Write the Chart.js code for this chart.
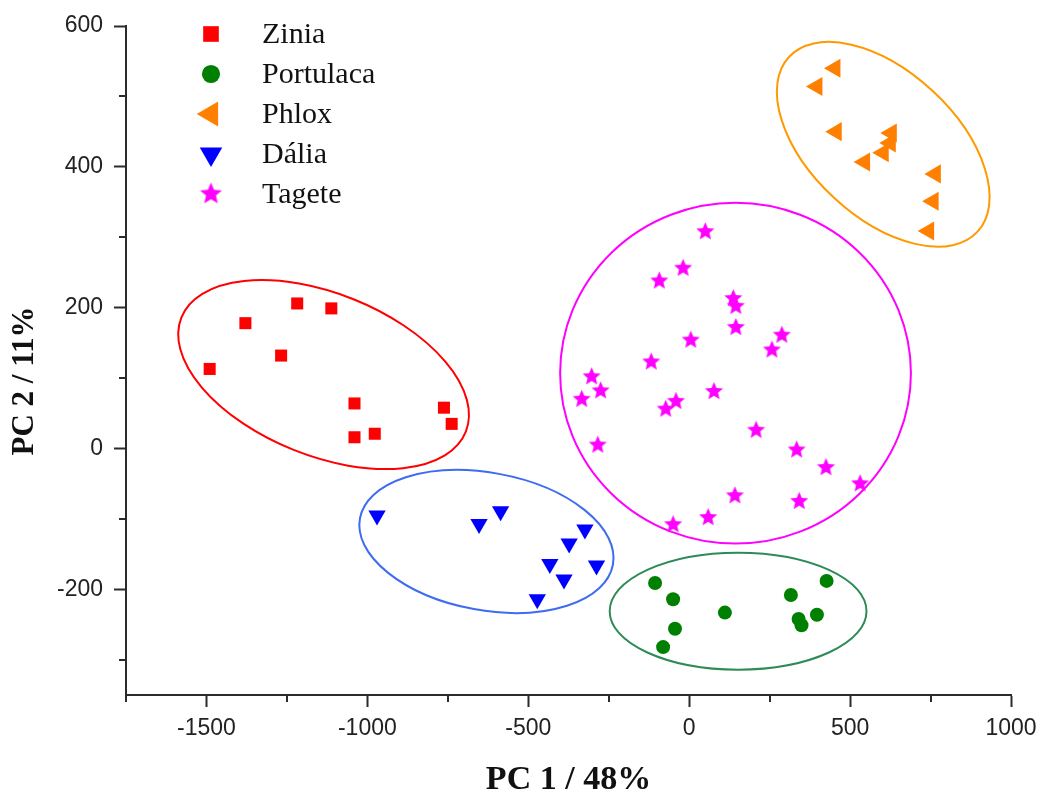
<!DOCTYPE html>
<html>
<head>
<meta charset="utf-8">
<title>PCA – PC1 x PC2</title>
<script src="https://cdn.jsdelivr.net/npm/chart.js@4/dist/chart.umd.min.js"></script>
<style>
  html, body { margin: 0; padding: 0; background: #fff; }
</style>
</head>
<body>
<canvas id="pca" width="1040" height="794"></canvas>
<script>
// ── Scores (PC1, PC2) por espécie ────────────────────────────
const ZINIA = [
  [-1490, 113], [-1379, 178], [-1218, 206], [-1112, 199], [-1268, 132],
  [-1040, 64], [-1040, 16], [-977, 21], [-762, 58], [-738, 35],
];
const PORTULACA = [
  [-106, -191], [-50, -214], [-44, -256], [-81, -282], [111, -233],
  [316, -208], [427, -188], [340, -242], [349, -251], [397, -236],
];
const PHLOX = [
  [453, 540], [397, 514], [457, 450], [628, 448], [625, 434],
  [603, 420], [545, 407], [765, 390], [758, 351], [744, 309],
];
const DALIA = [
  [-970, -95], [-653, -107], [-586, -89], [-324, -115], [-373, -135],
  [-433, -164], [-288, -166], [-389, -186], [-472, -214],
];
const TAGETE = [
  [50, 308], [-19, 256], [-93, 238], [137, 213], [145, 202],
  [145, 172], [288, 161], [257, 140], [5, 154], [-118, 123],
  [-303, 102], [-275, 82], [-334, 70], [-41, 67], [-73, 56],
  [77, 81], [-284, 5], [208, 26], [334, -2], [425, -27],
  [531, -50], [342, -75], [142, -67], [59, -98], [-50, -108],
];

// Elipses dos grupos: centro + dois semi-eixos conjugados (unidades dos dados)
const ZINIA_RING     = { c: [-1136, 105], a: [442, -81],  b: [-93, -107] };
const PORTULACA_RING = { c: [152, -231],  a: [399, 0],    b: [0, 83] };
const PHLOX_RING     = { c: [603, 432],   a: [293, -124], b: [-153, -76] };
const DALIA_RING     = { c: [-630, -132], a: [393, -33],  b: [-39, -96] };
const TAGETE_RING    = { c: [144, 107],   a: [545, 0],    b: [0, 242] };

const X_TICKS = [-1500, -1000, -500, 0, 500, 1000];
const X_MINOR = [-1750, -1250, -750, -250, 250, 750];
const Y_TICKS = [-200, 0, 200, 400, 600];
const Y_MINOR = [-300, -100, 100, 300, 500];

const AXIS = '#2b2b2b';
const SANS = '"Liberation Sans", Arial, sans-serif';
const SERIF = '"Liberation Serif", "Times New Roman", serif';

function makeStar(outer, inner, color) {
  const c = document.createElement('canvas');
  const s = Math.ceil(outer * 2) + 2;
  c.width = c.height = s;
  const g = c.getContext('2d');
  g.fillStyle = color;
  g.beginPath();
  for (let i = 0; i < 10; i++) {
    const r = i % 2 ? inner : outer;
    const ang = -Math.PI / 2 + i * Math.PI / 5;
    g.lineTo(s / 2 + r * Math.cos(ang), s / 2 + r * Math.sin(ang));
  }
  g.closePath();
  g.fill();
  return c;
}

const starSmall = makeStar(9.5, 4.3, '#ff00ff');
const starBig   = makeStar(11.5, 5.2, '#ff00ff');

const toXY = pts => pts.map(([x, y]) => ({ x, y }));

function serie(label, pts, color, style, radius, rotation, ring, ringColor) {
  return {
    label, data: toXY(pts),
    backgroundColor: color, borderColor: color, borderWidth: 0,
    pointStyle: style, pointRadius: radius, pointRotation: rotation,
    ring, ringColor,
  };
}

// ── Elipses (por baixo dos pontos) ───────────────────────────
const ringsPlugin = {
  id: 'rings',
  beforeDatasetsDraw(chart) {
    const { ctx, scales: { x, y } } = chart;
    chart.data.datasets.forEach(ds => {
      const r = ds.ring;
      const cx = x.getPixelForValue(r.c[0]), cy = y.getPixelForValue(r.c[1]);
      const ax = x.getPixelForValue(r.c[0] + r.a[0]) - cx;
      const ay = y.getPixelForValue(r.c[1] + r.a[1]) - cy;
      const bx = x.getPixelForValue(r.c[0] + r.b[0]) - cx;
      const by = y.getPixelForValue(r.c[1] + r.b[1]) - cy;
      ctx.save();
      ctx.beginPath();
      ctx.transform(ax, ay, bx, by, cx, cy);
      ctx.arc(0, 0, 1, 0, Math.PI * 2);
      ctx.restore();
      ctx.save();
      ctx.strokeStyle = ds.ringColor;
      ctx.lineWidth = 2;
      ctx.stroke();
      ctx.restore();
    });
  },
};

// ── Ticks secundários, título do eixo Y e legenda ────────────
const decorPlugin = {
  id: 'decor',
  afterDraw(chart) {
    const { ctx, scales: { x, y }, chartArea: area } = chart;
    ctx.save();
    ctx.strokeStyle = AXIS;
    ctx.lineWidth = 2;
    ctx.beginPath();
    X_MINOR.forEach(v => {
      const px = Math.round(x.getPixelForValue(v));
      ctx.moveTo(px, area.bottom);
      ctx.lineTo(px, area.bottom + 7);
    });
    Y_MINOR.forEach(v => {
      const py = Math.round(y.getPixelForValue(v));
      ctx.moveTo(area.left, py);
      ctx.lineTo(area.left - 7, py);
    });
    ctx.stroke();

    ctx.translate(25, 381);
    ctx.rotate(-Math.PI / 2);
    ctx.fillStyle = '#111';
    ctx.font = 'bold 31px ' + SERIF;
    ctx.textAlign = 'center';
    ctx.textBaseline = 'middle';
    ctx.fillText('PC 2 / 11%', 0, 0);
    ctx.restore();

    ctx.save();
    ctx.font = '30px ' + SERIF;
    ctx.textBaseline = 'middle';
    chart.data.datasets.forEach((ds, i) => {
      const ly = 34 + i * 40;
      ctx.fillStyle = ds.backgroundColor;
      if (ds.pointStyle instanceof HTMLCanvasElement) {
        ctx.drawImage(starBig, 211 - starBig.width / 2, ly - starBig.height / 2);
      } else {
        Chart.helpers.drawPoint(ctx, {
          pointStyle: ds.pointStyle, rotation: ds.pointRotation,
          radius: ds.pointRadius * 1.3, borderWidth: 0,
        }, 211, ly);
      }
      ctx.fillStyle = '#111';
      ctx.fillText(ds.label, 262, ly + 1);
    });
    ctx.restore();
  },
};

new Chart(document.getElementById('pca'), {
  type: 'scatter',
  data: {
    datasets: [
      serie('Zinia', ZINIA, '#ff0000', 'rect', 8.5, 0, ZINIA_RING, '#ff0000'),
      serie('Portulaca', PORTULACA, '#008000', 'circle', 7, 0, PORTULACA_RING, '#2e8b57'),
      serie('Phlox', PHLOX, '#ff8000', 'triangle', 11, 270, PHLOX_RING, '#ff9900'),
      serie('Dália', DALIA, '#0000ff', 'triangle', 10, 180, DALIA_RING, '#3d6cf0'),
      serie('Tagete', TAGETE, '#ff00ff', starSmall, 10, 0, TAGETE_RING, '#ff00ff'),
    ],
  },
  options: {
    responsive: false,
    animation: false,
    events: [],
    layout: { padding: { top: 26, right: 29, bottom: 0, left: 0 } },
    plugins: { legend: { display: false }, tooltip: { enabled: false } },
    scales: {
      x: {
        type: 'linear', min: -1750, max: 1000,
        afterBuildTicks: s => { s.ticks = X_TICKS.map(v => ({ value: v })); },
        afterFit: s => { s.height = 99; s.paddingLeft = 0; s.paddingRight = 0; },
        ticks: {
          callback: v => String(v), padding: 8, maxRotation: 0, autoSkip: false,
          font: { family: SANS, size: 23 }, color: '#222',
        },
        grid: { drawOnChartArea: false, tickLength: 12, tickWidth: 2, tickColor: AXIS },
        border: { color: AXIS, width: 2 },
        title: {
          display: true, text: 'PC 1 / 48%', color: '#111', padding: 0,
          font: { family: SERIF, size: 34, weight: 'bold', lineHeight: 0.8 },
        },
      },
      y: {
        type: 'linear', min: -350, max: 600,
        afterBuildTicks: s => { s.ticks = Y_TICKS.map(v => ({ value: v })); },
        afterFit: s => { s.width = 126; s.paddingTop = 0; s.paddingBottom = 0; },
        ticks: {
          callback: v => String(v), padding: 11,
          font: { family: SANS, size: 23 }, color: '#222',
        },
        grid: { drawOnChartArea: false, tickLength: 12, tickWidth: 2, tickColor: AXIS },
        border: { color: AXIS, width: 2 },
      },
    },
  },
  plugins: [ringsPlugin, decorPlugin],
});
</script>
</body>
</html>
